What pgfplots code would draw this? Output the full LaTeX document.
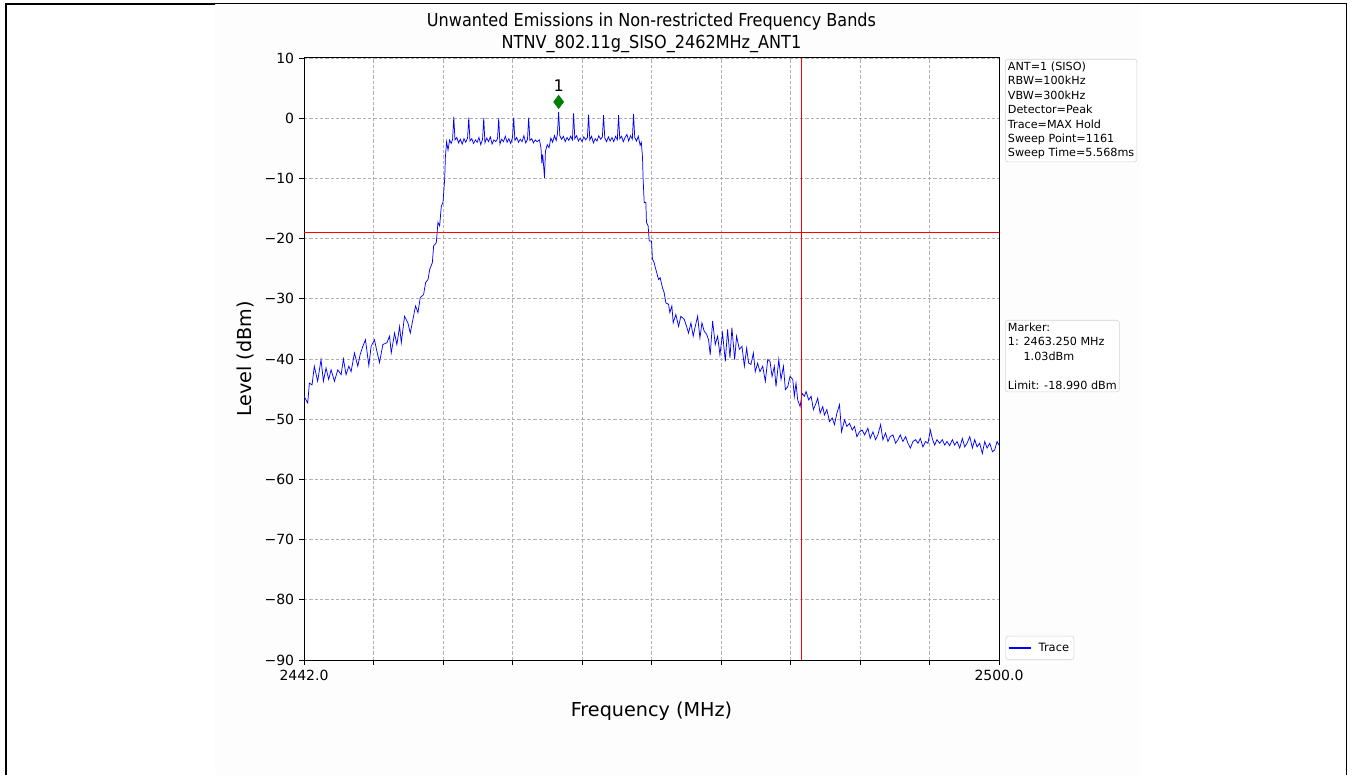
\documentclass[border=0pt]{standalone}
\usepackage{fontspec}
\setmainfont{DejaVu Sans}
\newfontfamily\condfont{DejaVu Sans Condensed}
\usepackage{pgfplots}
\pgfplotsset{compat=1.18}
\definecolor{mplgreen}{RGB}{0,128,0}
\definecolor{gridgray}{RGB}{176,176,176}
\definecolor{boxgray}{RGB}{210,210,210}
\definecolor{tracecol}{RGB}{0,0,255}
\definecolor{limred}{RGB}{255,0,0}
\definecolor{figbg}{RGB}{253,253,253}
\begin{document}
\begin{tikzpicture}
\path[use as bounding box] (0pt,0pt) rectangle (1014pt,581.25pt);
\fill[figbg] (161.25pt,0pt) rectangle (855pt,578pt);
\draw[line width=1.5pt] (4.125pt,0pt) -- (4.125pt,578.25pt) -- (161.25pt,578.25pt);
\draw[line width=0.75pt] (161.25pt,578.25pt) -- (1009.875pt,578.25pt) -- (1009.875pt,0pt);
\node[align=center, font=\condfont\fontsize{13.4}{16.5}\selectfont] at (488.625pt,557pt)
  {Unwanted Emissions in Non-restricted Frequency Bands\\NTNV\_802.11g\_SISO\_2462MHz\_ANT1};
\begin{axis}[
  at={(228pt,86.25pt)}, anchor=south west,
  scale only axis, width=521.25pt, height=451.5pt,
  axis background/.style={fill=white},
  xmin=2442, xmax=2500, ymin=-90, ymax=10,
  xtick={2442,2447.8,2453.6,2459.4,2465.2,2471,2476.8,2482.6,2488.4,2494.2,2500},
  xticklabels={2442.0,,,,,,,,,,2500.0},
  ytick={-90,-80,-70,-60,-50,-40,-30,-20,-10,0,10},
  yticklabels={−90,−80,−70,−60,−50,−40,−30,−20,−10,0,10},
  tick align=outside, tick pos=left,
  major tick length=3.9pt,
  tick style={black, line width=0.6pt},
  grid=major, grid style={gridgray, dash pattern=on 2.5pt off 1.5pt, line width=0.5pt},
  axis line style={line width=0.75pt},
  ticklabel style={font=\fontsize{10.5}{12}\selectfont},
  xlabel={Frequency (MHz)}, ylabel={Level (dBm)},
  every axis x label/.style={at={(axis description cs:0.5,0)}, anchor=center, yshift=-38.25pt, font=\fontsize{14.4}{16}\selectfont},
  every axis y label/.style={at={(axis description cs:0,0.5)}, xshift=-44.25pt, rotate=90, anchor=center, font=\fontsize{14.4}{16}\selectfont},
  legend style={at={(axis description cs:1,0)}, anchor=south west, xshift=5pt, draw=boxgray, fill=white, rounded corners=2pt, font=\fontsize{8.6}{10}\selectfont, inner xsep=1.5pt, inner ysep=3pt},
  legend cell align=left,
]
\addplot[tracecol, line width=0.55pt, no marks, legend image post style={line width=1pt}] coordinates {
(2442.00,-46.2) (2442.31,-47.3) (2442.45,-44.0) (2442.67,-44.3) (2442.86,-41.2)
(2443.14,-43.7) (2443.42,-40.1) (2443.62,-43.7) (2443.84,-41.5) (2444.06,-43.4)
(2444.26,-41.8) (2444.54,-43.7) (2444.82,-41.8) (2445.10,-42.6) (2445.29,-40.0)
(2445.51,-42.6) (2445.74,-41.2) (2445.93,-42.1) (2446.21,-39.0) (2446.49,-41.2)
(2446.68,-39.3) (2446.91,-37.9) (2447.13,-36.8) (2447.41,-41.1) (2447.60,-37.9)
(2447.88,-36.8) (2448.08,-38.7) (2448.30,-40.6) (2448.58,-37.6) (2448.92,-37.3)
(2449.14,-36.2) (2449.28,-39.0) (2449.56,-35.7) (2449.75,-37.6) (2449.98,-34.6)
(2450.12,-37.3) (2450.39,-32.9) (2450.67,-34.0) (2450.87,-35.7) (2451.09,-33.4)
(2451.31,-31.2) (2451.51,-32.3) (2451.70,-29.8) (2451.98,-29.3) (2452.15,-27.3)
(2452.35,-26.8) (2452.49,-25.1) (2452.71,-24.0) (2452.82,-21.2) (2453.04,-20.7)
(2453.18,-17.3) (2453.32,-17.9) (2453.46,-14.6) (2453.60,-14.0) (2453.74,-10.1)
(2453.80,-6.4) (2453.90,-3.9) (2454.02,-5.3) (2454.15,-3.6) (2454.28,-4.2) (2454.40,-3.5)
(2454.50,0.2)
(2454.60,-3.6) (2454.75,-3.2) (2454.90,-4.1) (2455.05,-3.5) (2455.20,-4.3) (2455.35,-3.4) (2455.50,-4.0) (2455.65,-3.3)
(2455.75,0.1)
(2455.85,-3.8) (2456.00,-3.4) (2456.15,-4.2) (2456.30,-3.6) (2456.45,-4.0) (2456.60,-3.2) (2456.75,-4.4) (2456.90,-3.5)
(2457.00,0.0)
(2457.10,-4.1) (2457.25,-3.3) (2457.40,-3.9) (2457.55,-3.1) (2457.70,-4.3) (2457.85,-3.6) (2458.00,-3.9) (2458.15,-3.4)
(2458.25,0.0)
(2458.35,-4.3) (2458.50,-3.5) (2458.65,-3.9) (2458.80,-3.0) (2458.95,-4.0) (2459.10,-3.4) (2459.25,-4.2) (2459.40,-3.2)
(2459.50,0.1)
(2459.60,-3.7) (2459.75,-3.2) (2459.90,-4.0) (2460.05,-3.5) (2460.20,-3.9) (2460.35,-2.9) (2460.50,-4.1) (2460.65,-3.5)
(2460.75,0.1)
(2460.85,-3.7) (2461.00,-3.4) (2461.15,-4.1) (2461.30,-3.6) (2461.45,-3.9) (2461.65,-3.6) (2461.78,-5.0) (2461.85,-7.5)
(2461.92,-6.0) (2462.00,-8.0) (2462.07,-9.9) (2462.15,-5.5) (2462.30,-4.4) (2462.45,-4.9) (2462.60,-3.3) (2462.75,-4.0)
(2462.90,-2.9) (2463.05,-3.7) (2463.15,-2.6)
(2463.25,1.03)
(2463.35,-2.9) (2463.50,-3.5) (2463.65,-3.0) (2463.80,-3.9) (2463.95,-3.2) (2464.10,-3.7) (2464.25,-3.0) (2464.40,-3.6)
(2464.50,0.8)
(2464.60,-3.4) (2464.75,-2.9) (2464.90,-3.8) (2465.05,-3.3) (2465.20,-3.9) (2465.35,-3.1) (2465.50,-3.6) (2465.65,-3.2)
(2465.75,0.6)
(2465.85,-3.6) (2466.00,-3.0) (2466.15,-4.1) (2466.30,-3.4) (2466.45,-3.8) (2466.60,-2.9) (2466.75,-3.5) (2466.90,-3.1)
(2467.00,0.5)
(2467.10,-3.3) (2467.25,-3.9) (2467.40,-3.1) (2467.55,-3.8) (2467.70,-3.2) (2467.85,-3.9) (2468.00,-3.0) (2468.15,-3.6)
(2468.25,0.5)
(2468.35,-3.4) (2468.50,-3.0) (2468.65,-3.9) (2468.80,-3.2) (2468.95,-2.7) (2469.10,-3.8) (2469.25,-2.9) (2469.40,-3.5)
(2469.50,0.7)
(2469.60,-3.2) (2469.75,-3.8) (2469.90,-3.0) (2470.05,-4.5) (2470.15,-4.0) (2470.25,-6.5) (2470.30,-10.1)
(2470.39,-14.0) (2470.53,-14.0) (2470.58,-17.3) (2470.72,-17.9) (2470.81,-20.4) (2471.00,-20.4) (2471.08,-23.4)
(2471.22,-24.0) (2471.36,-25.1) (2471.59,-26.8) (2471.72,-26.5) (2471.92,-28.2) (2472.06,-29.0) (2472.20,-30.7)
(2472.42,-30.9) (2472.53,-32.3) (2472.70,-31.2) (2472.81,-34.0) (2473.03,-32.6) (2473.26,-34.6) (2473.45,-32.9)
(2473.73,-33.4) (2473.93,-34.6) (2474.09,-35.7) (2474.29,-34.0) (2474.48,-36.2) (2474.65,-34.6) (2474.85,-32.9)
(2475.04,-36.5) (2475.21,-34.0) (2475.40,-35.4) (2475.60,-35.9) (2475.76,-36.8) (2475.90,-39.3) (2476.10,-33.7)
(2476.32,-37.6) (2476.52,-36.2) (2476.71,-39.3) (2476.93,-35.7) (2477.16,-40.4) (2477.35,-35.1) (2477.55,-39.8)
(2477.71,-34.8) (2477.94,-40.1) (2478.10,-36.2) (2478.33,-38.4) (2478.55,-37.9) (2478.75,-41.2) (2478.94,-38.2)
(2479.11,-40.7) (2479.30,-40.9) (2479.50,-39.0) (2479.66,-42.1) (2479.86,-40.7) (2480.05,-42.1) (2480.28,-41.2)
(2480.50,-43.7) (2480.70,-40.1) (2480.89,-40.4) (2481.06,-42.9) (2481.25,-41.2) (2481.39,-44.6) (2481.62,-40.1)
(2481.81,-43.4) (2482.01,-41.2) (2482.17,-45.1) (2482.37,-44.6) (2482.56,-42.9) (2482.79,-43.4) (2482.92,-46.2)
(2483.06,-44.0) (2483.20,-46.8) (2483.40,-47.9) (2483.57,-45.7) (2483.76,-46.2) (2483.90,-45.4) (2484.12,-46.8)
(2484.32,-46.2) (2484.51,-48.4) (2484.74,-47.3) (2484.87,-46.5) (2485.07,-49.0) (2485.29,-47.9) (2485.43,-49.3)
(2485.63,-48.4) (2485.79,-49.8) (2485.85,-50.4) (2486.08,-49.8) (2486.27,-50.9) (2486.47,-49.0) (2486.69,-47.6)
(2486.86,-52.1) (2487.11,-50.1) (2487.30,-51.2) (2487.53,-50.7) (2487.75,-51.8) (2487.94,-51.2) (2488.14,-52.9)
(2488.36,-52.1) (2488.58,-51.8) (2488.78,-52.6) (2489.06,-51.5) (2489.25,-53.2) (2489.48,-52.1) (2489.70,-53.4)
(2489.89,-52.6) (2490.12,-50.9) (2490.31,-53.4) (2490.53,-52.3) (2490.73,-53.7) (2490.92,-52.9) (2491.15,-52.6)
(2491.37,-54.0) (2491.57,-53.4) (2491.76,-52.6) (2491.98,-53.7) (2492.21,-52.9) (2492.40,-54.0) (2492.60,-54.8)
(2492.82,-53.7) (2493.04,-53.4) (2493.24,-54.0) (2493.43,-53.2) (2493.65,-54.6) (2493.88,-53.7) (2494.07,-54.0)
(2494.27,-51.8) (2494.43,-53.2) (2494.63,-54.3) (2494.82,-53.4) (2495.05,-54.0) (2495.27,-53.4) (2495.47,-54.3)
(2495.66,-53.7) (2495.88,-54.4) (2496.11,-53.4) (2496.30,-54.3) (2496.50,-53.7) (2496.72,-54.8) (2496.94,-53.2)
(2497.14,-54.6) (2497.33,-54.0) (2497.56,-52.9) (2497.78,-54.8) (2497.97,-53.4) (2498.17,-54.6) (2498.39,-54.0)
(2498.61,-55.7) (2498.81,-53.7) (2499.00,-54.8) (2499.23,-54.0) (2499.45,-55.4) (2499.64,-55.1) (2499.84,-53.7)
(2500.00,-54.3)
};
\addlegendentry{\hspace{3pt}Trace}
\addplot[draw=red, line width=0.8pt, forget plot] coordinates {(2442,-18.99) (2500,-18.99)};
\draw[red, line width=1.1pt] (axis cs:2483.5,-90) -- (axis cs:2483.5,10);
\addplot[only marks, mark=diamond*, mark size=5pt, mplgreen, forget plot] coordinates {(2463.25,2.7)};
\node[font=\fontsize{12}{14}\selectfont] at (axis cs:2463.25,5.4) {1};
\end{axis}
\node[anchor=north west, draw=boxgray, rounded corners=2pt, fill=white, align=left, inner sep=2pt,
  font=\fontsize{8.4}{10.8}\selectfont] at (753.75pt,537pt)
  {ANT=1 (SISO)\\RBW=100kHz\\VBW=300kHz\\Detector=Peak\\Trace=MAX Hold\\Sweep Point=1161\\Sweep Time=5.568ms};
\node[anchor=north west, draw=boxgray, rounded corners=2pt, fill=white, align=left, inner sep=2pt,
  font=\fontsize{8.4}{10.8}\selectfont] at (753.75pt,341.25pt)
  {Marker:\\1: 2463.250 MHz\\\hphantom{1: }1.03dBm\\\strut\\Limit: -18.990 dBm};
\end{tikzpicture}
\end{document}
